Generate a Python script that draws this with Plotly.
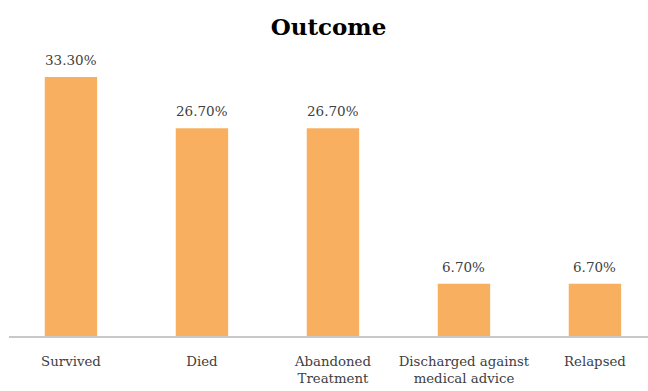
import plotly.graph_objects as go

categories = ["Survived", "Died", "Abandoned<br>Treatment", "Discharged against<br>medical advice", "Relapsed"]
values = [33.3, 26.7, 26.7, 6.7, 6.7]
value_labels = ["33.30%", "26.70%", "26.70%", "6.70%", "6.70%"]

x_idx = list(range(len(categories)))
FONT = "DejaVu Serif"

fig = go.Figure(go.Bar(
    x=x_idx, y=values, width=0.4,
    marker=dict(color="#F8B060", line=dict(width=0)),
    hoverinfo="skip",
))

for xi, v, t in zip(x_idx, values, value_labels):
    fig.add_annotation(x=xi, y=v, text=t, showarrow=False, yanchor="bottom",
                       yshift=7, font=dict(family=FONT, size=13.5, color="#404040"))

fig.update_layout(
    width=648, height=391,
    margin=dict(l=9, r=0, t=50, b=55),
    paper_bgcolor="white", plot_bgcolor="white",
    showlegend=False,
    title=dict(text="<b>Outcome</b>", x=0.5, xref="paper", xanchor="center",
               y=0.93, yref="container", yanchor="middle",
               font=dict(family=FONT, size=23, color="#000000")),
    xaxis=dict(range=[-0.473, 4.405], tickmode="array", tickvals=x_idx, ticktext=categories,
               showgrid=False, zeroline=False, showline=True, linecolor="#C8C8C8", linewidth=1.5,
               ticks="", ticklabelstandoff=12,
               tickfont=dict(family=FONT, size=13.3, color="#404040")),
    yaxis=dict(range=[0, 36.76], visible=False, showgrid=False, zeroline=False),
)

fig.write_html("out.html")
